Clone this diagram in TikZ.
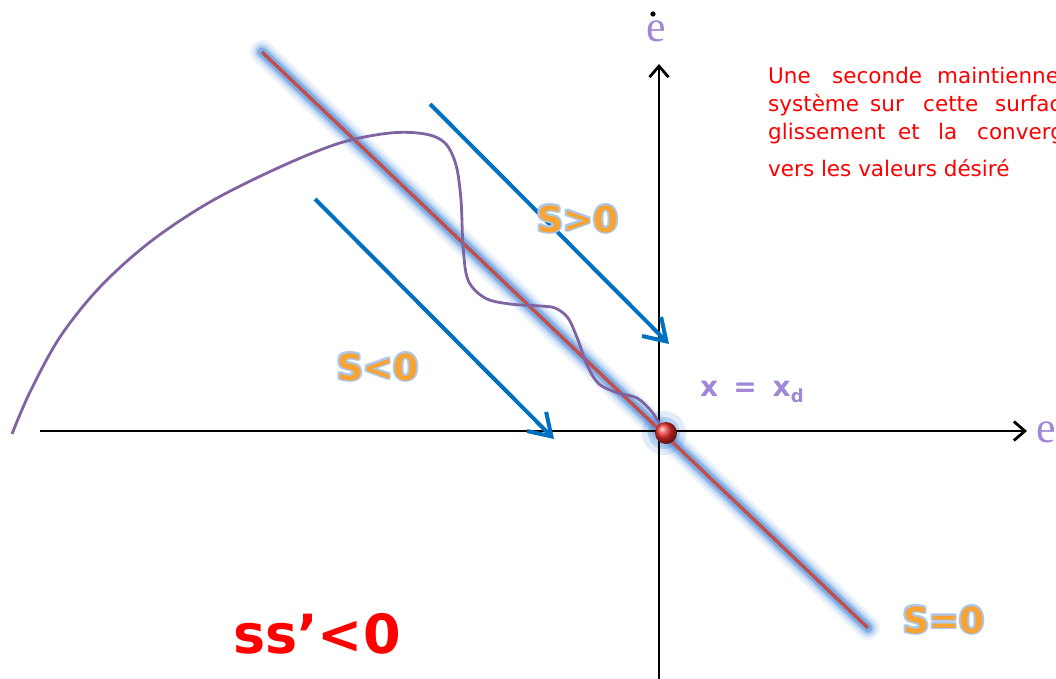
\documentclass[tikz,border=0pt]{standalone}
\usepackage{fontspec}
\setmainfont{DejaVu Sans}
\newfontfamily\serifE{Liberation Serif}
\usetikzlibrary{arrows.meta}
\definecolor{arrblue}{RGB}{0,112,192}
\definecolor{slred}{RGB}{192,80,77}
\definecolor{traj}{RGB}{128,100,162}
\definecolor{lav}{RGB}{160,135,215}
\definecolor{orangeS}{RGB}{248,163,50}
\definecolor{glowblue}{RGB}{170,200,238}
\definecolor{haloblue}{RGB}{60,130,215}
\definecolor{txtred}{RGB}{255,0,0}
\newcommand{\glowcp}[3]{\rlap{\hspace*{#1}\raisebox{#2}{#3}}}
\newcommand{\orglow}[1]{{\color{glowblue}\glowcp{1.8pt}{0pt}{#1}\glowcp{-1.8pt}{0pt}{#1}\glowcp{0pt}{1.8pt}{#1}\glowcp{0pt}{-1.8pt}{#1}\glowcp{1.3pt}{1.3pt}{#1}\glowcp{-1.3pt}{1.3pt}{#1}\glowcp{1.3pt}{-1.3pt}{#1}\glowcp{-1.3pt}{-1.3pt}{#1}}{\color{orangeS}#1}}
\tikzset{
  axisline/.style={line width=2.8pt, -{Straight Barb[length=11pt,width=19pt]}},
  blueflow/.style={arrblue, line width=4pt, -{Straight Barb[length=21pt,width=27pt]}},
  halo/.style={haloblue, line cap=round},
  slabel/.style={inner sep=0pt, anchor=base west, font=\bfseries\fontsize{36}{36}\selectfont},
  redword/.style={inner sep=0pt, anchor=base west, text=txtred, font=\fontsize{21.5}{26}\selectfont},
}
\begin{document}
\begin{tikzpicture}[x=1pt,y=-1pt]
\useasboundingbox (0,0) rectangle (1056,679);
% coordinates
\coordinate (xl) at (40,431);
\coordinate (xr) at (1027,431);
\coordinate (yb) at (659,679);
\coordinate (yt) at (659,64);
\coordinate (s0a) at (262,52);
\coordinate (s0b) at (868,628);
\coordinate (a1s) at (430,104);
\coordinate (a1e) at (669,344);
\coordinate (a2s) at (315,199);
\coordinate (a2e) at (554,439);
% glow of the sliding surface
\draw[halo, line width=24pt, opacity=0.1] (s0a) -- (s0b);
\draw[halo, line width=18pt, opacity=0.15] (s0a) -- (s0b);
\draw[halo, line width=13pt, opacity=0.25] (s0a) -- (s0b);
\draw[halo, line width=9pt, opacity=0.4] (s0a) -- (s0b);
\fill[haloblue, opacity=0.15] (664,433) circle[radius=22pt];
\fill[haloblue, opacity=0.25] (664,433) circle[radius=16pt];
% axes
\draw[axisline] (xl) -- (xr);
\draw[axisline] (yb) -- (yt);
% sliding surface
\draw[slred, line width=3.5pt] (s0a) -- (s0b);
% flow arrows
\draw[blueflow] (a1s) -- (a1e);
\draw[blueflow] (a2s) -- (a2e);
% trajectory
\draw[traj, line width=2.8pt] plot[smooth, tension=0.55] coordinates {(12,434) (30,392) (60,337) (100,287) (150,242) (210,202) (280,167) (340,143) (390,133) (425,134) (445,143) (456,165) (461,200) (463,245) (468,280) (485,298) (510,304) (540,306) (555,308) (568,318) (578,340) (587,365) (599,384) (618,393) (637,398) (652,412) (664,432)};
% equilibrium point
\node[circle, inner sep=0pt, minimum size=22pt, shading=ball, ball color={rgb,255:red,235;green,45;blue,40}] (xd) at (666,433) {};
% axis labels
\node[inner sep=0pt, anchor=base west, text=lav, font=\serifE\fontsize{44}{44}\selectfont] (edot) at (646,42) {e};
\fill (653,14) circle[radius=2.6pt];
\node[inner sep=0pt, anchor=base west, text=lav, font=\serifE\fontsize{44}{44}\selectfont] (eax) at (1036,442) {e};
% x = x_d
\node[inner sep=0pt, anchor=base west, text=lav, font=\bfseries\fontsize{28}{28}\selectfont] (xeq) at (700,396) {x\hspace{15pt}=\hspace{16pt}x\raisebox{-6pt}{\fontsize{18}{18}\selectfont d}};
% region labels
\node[slabel] (spos) at (537,232) {\orglow{S>0}};
\node[slabel] (sneg) at (337,380) {\orglow{S<0}};
\node[slabel] (szero) at (903,633) {\orglow{S=0}};
% ss'<0
\node[inner sep=0pt, anchor=base west, text=txtred, font=\bfseries\fontsize{54}{54}\selectfont] (cond) at (233,653) {ss’<0};
% red text
\node[redword] (w1) at (768,84) {Une};
\node[redword] (w2) at (832,84) {seconde};
\node[redword] (w3) at (937,84) {maintienne};
\node[redword] (w4) at (768,112) {système};
\node[redword] (w5) at (870,112) {sur};
\node[redword] (w6) at (923,112) {cette};
\node[redword] (w7) at (995,112) {surfac};
\node[redword] (w8) at (768,140) {glissement};
\node[redword] (w9) at (898,140) {et};
\node[redword] (w10) at (938,140) {la};
\node[redword] (w11) at (977,140) {converg};
\node[redword] (w12) at (768,176) {vers les valeurs désiré};
\end{tikzpicture}
\end{document}
